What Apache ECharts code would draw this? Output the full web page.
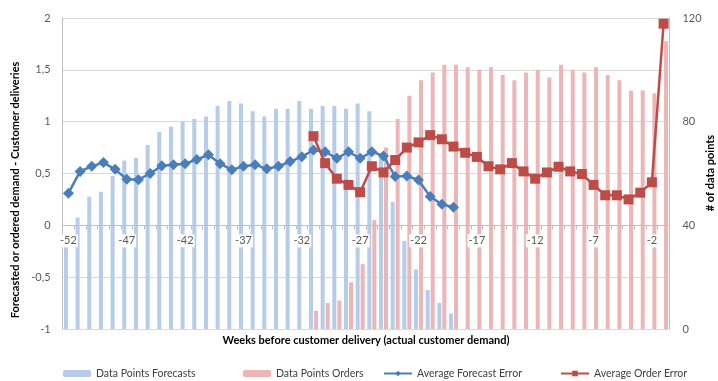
<!DOCTYPE html>
<html>
<head>
<meta charset="utf-8">
<script src="https://cdn.jsdelivr.net/npm/echarts@6/dist/echarts.min.js"></script>
<style>
  html, body { margin: 0; padding: 0; background: #ffffff; }
  #chart { width: 718px; height: 381px; }
</style>
</head>
<body>
<div id="chart"></div>
<script>
// Weeks before customer delivery
const weeks = ['-52','-51','-50','-49','-48','-47','-46','-45','-44','-43','-42','-41','-40',
  '-39','-38','-37','-36','-35','-34','-33','-32','-31','-30','-29','-28','-27','-26',
  '-25','-24','-23','-22','-21','-20','-19','-18','-17','-16','-15','-14','-13','-12',
  '-11','-10','-9','-8','-7','-6','-5','-4','-3','-2','-1'];

// Number of data points behind each average (right axis)
const pointsForecasts = [34, 43, 51, 53, 59, 65, 66, 71, 76, 78, 80, 81, 82,
  86, 88, 87, 84, 82, 85, 85, 88, 85, 86, 86, 85, 87, 84,
  66, 49, 34, 23, 15, 10, 6, null, null, null, null, null, null, null,
  null, null, null, null, null, null, null, null, null, null, null];

const pointsOrders = [null, null, null, null, null, null, null, null, null, null, null, null, null,
  null, null, null, null, null, null, null, null, 7, 10, 11, 18, 25, 42,
  70, 81, 90, 96, 99, 102, 102, 101, 100, 101, 98, 96, 99, 100,
  97, 102, 100, 99, 101, 98, 96, 92, 92, 91, 111];

// Average error (left axis)
const forecastError = [0.31, 0.52, 0.57, 0.605, 0.54, 0.445, 0.44, 0.50, 0.575, 0.585, 0.595, 0.635, 0.68,
  0.595, 0.535, 0.57, 0.585, 0.545, 0.57, 0.615, 0.662, 0.726, 0.71, 0.646, 0.71, 0.646, 0.71,
  0.67, 0.47, 0.476, 0.437, 0.277, 0.203, 0.174, null, null, null, null, null, null, null,
  null, null, null, null, null, null, null, null, null, null, null];

const orderError = [null, null, null, null, null, null, null, null, null, null, null, null, null,
  null, null, null, null, null, null, null, null, 0.86, 0.60, 0.45, 0.39, 0.32, 0.57,
  0.51, 0.63, 0.75, 0.80, 0.87, 0.83, 0.76, 0.70, 0.66, 0.57, 0.54, 0.60, 0.52, 0.45,
  0.51, 0.565, 0.52, 0.495, 0.39, 0.29, 0.29, 0.25, 0.315, 0.415, 1.945];

const seriesNames = ['Data Points Forecasts', 'Data Points Orders', 'Average Forecast Error', 'Average Order Error'];

const xTitle = 'Weeks before customer delivery (actual customer demand)';
const yLeftTitle = 'Forecasted or ordered demand - Customer deliveries';
const yRightTitle = '# of data points';

const FONT = 'Lato, "Open Sans", sans-serif';
const GRID_GRAY = '#d9d9d9';
const LABEL_GRAY = '#595959';

// plot box (pixels)
const PLOT_TOP = 18, PLOT_BOTTOM = 52, PLOT_H = 381 - PLOT_TOP - PLOT_BOTTOM;
const LEFT_MIN = -1, LEFT_MAX = 2;
// the week axis crosses the left scale at zero
const zeroOffset = -PLOT_H * (0 - LEFT_MIN) / (LEFT_MAX - LEFT_MIN);

// one legend block per entry, so each sits at its own left offset
const legendLefts = [63, 243, 383, 560];
const legends = seriesNames.map((n, i) => ({
  left: legendLefts[i],
  bottom: 2,
  itemWidth: 28,
  itemHeight: 7,
  itemGap: 4,
  padding: 0,
  textStyle: { fontFamily: FONT, fontSize: 10.5, color: '#404040' },
  data: [n]
}));

// axis titles as free text so they sit exactly where wanted
function titleText(text, x, y, rotation) {
  return {
    type: 'text',
    x: x,
    y: y,
    rotation: rotation,
    silent: true,
    style: {
      text: text,
      fill: '#000000',
      fontFamily: FONT,
      fontSize: 11,
      fontWeight: 'bold',
      align: 'center',
      verticalAlign: 'middle'
    }
  };
}

const chart = echarts.init(document.getElementById('chart'), null, { renderer: 'canvas' });

chart.setOption({
  animation: false,
  backgroundColor: '#ffffff',
  textStyle: { fontFamily: FONT },
  grid: { left: 62.6, right: 48.6, top: PLOT_TOP, bottom: PLOT_BOTTOM, containLabel: false, outerBoundsMode: 'none' },
  legend: legends,
  graphic: [
    titleText(xTitle, 366, 340, 0),
    titleText(yLeftTitle, 15, 190, Math.PI / 2),
    titleText(yRightTitle, 710, 173, Math.PI / 2)
  ],
  xAxis: {
    type: 'category',
    data: weeks,
    boundaryGap: true,
    position: 'bottom',
    offset: zeroOffset,
    z: 3,
    axisLine: { onZero: false, lineStyle: { color: '#bfbfbf', width: 1 } },
    axisTick: { show: true, interval: 0, length: 4, lineStyle: { color: '#bfbfbf' } },
    axisLabel: {
      interval: 4, margin: 9, fontFamily: FONT, fontSize: 11, color: LABEL_GRAY,
      backgroundColor: '#ffffff', padding: [1, 1, 1, 1]
    },
    splitLine: { show: false }
  },
  yAxis: [
    {
      type: 'value',
      min: LEFT_MIN,
      max: LEFT_MAX,
      interval: 0.5,
      axisLine: { show: true, lineStyle: { color: '#bfbfbf' } },
      axisTick: { show: false },
      axisLabel: {
        margin: 12, fontFamily: FONT, fontSize: 11, color: LABEL_GRAY,
        formatter: v => String(v).replace('.', ',')
      },
      splitLine: { show: true, lineStyle: { color: GRID_GRAY, width: 1 } }
    },
    {
      type: 'value',
      min: 0,
      max: 120,
      interval: 40,
      position: 'right',
      axisLine: { show: true, lineStyle: { color: '#bfbfbf' } },
      axisTick: { show: false },
      axisLabel: { margin: 13, fontFamily: FONT, fontSize: 11, color: LABEL_GRAY },
      splitLine: { show: false }
    }
  ],
  series: [
    {
      name: seriesNames[0],
      type: 'bar',
      yAxisIndex: 1,
      data: pointsForecasts,
      barWidth: 4,
      barGap: '25%',
      itemStyle: { color: '#b6cce8' },
      z: 1
    },
    {
      name: seriesNames[1],
      type: 'bar',
      yAxisIndex: 1,
      data: pointsOrders,
      barWidth: 4,
      barGap: '25%',
      itemStyle: { color: '#ecb6b6' },
      z: 1
    },
    {
      name: seriesNames[2],
      type: 'line',
      yAxisIndex: 0,
      data: forecastError,
      symbol: 'diamond',
      symbolSize: 11,
      showAllSymbol: true,
      connectNulls: false,
      lineStyle: { color: '#4a7ebb', width: 2.5 },
      itemStyle: { color: '#4a7ebb' },
      z: 5
    },
    {
      name: seriesNames[3],
      type: 'line',
      yAxisIndex: 0,
      data: orderError,
      symbol: 'rect',
      symbolSize: 10,
      showAllSymbol: true,
      connectNulls: false,
      lineStyle: { color: '#be4b48', width: 2.5 },
      itemStyle: { color: '#be4b48' },
      z: 6
    }
  ]
});
</script>
</body>
</html>
